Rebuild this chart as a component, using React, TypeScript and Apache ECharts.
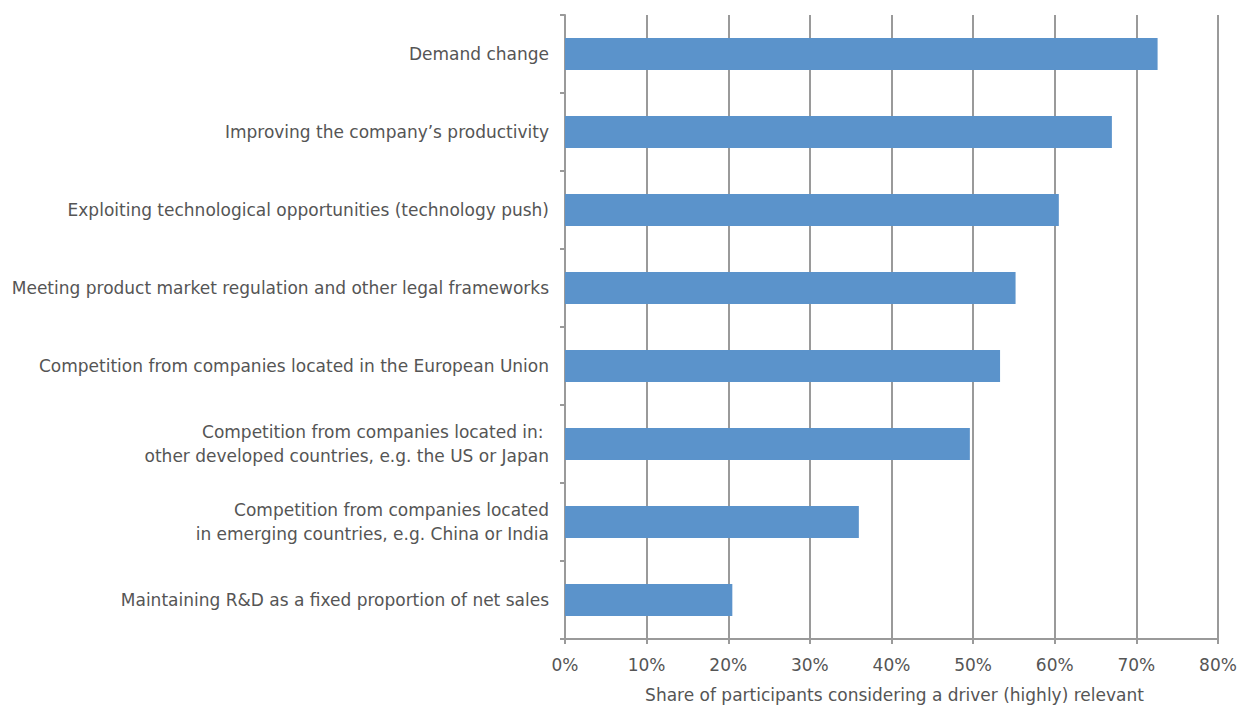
import React, { useEffect, useRef } from "react";
import * as echarts from "echarts";

const categories = [
  "Demand change",
  "Improving the company’s productivity",
  "Exploiting technological opportunities (technology push)",
  "Meeting product market regulation and other legal frameworks",
  "Competition from companies located in the European Union",
  "Competition from companies located in: \nother developed countries, e.g. the US or Japan",
  "Competition from companies located\nin emerging countries, e.g. China or India",
  "Maintaining R&D as a fixed proportion of net sales",
];
const values = [72.6, 67.0, 60.5, 55.2, 53.3, 49.6, 36.0, 20.5];
const xTicks = [0, 10, 20, 30, 40, 50, 60, 70, 80];
const xAxisTitle = "Share of participants considering a driver (highly) relevant";

export default function App() {
  const ref = useRef<HTMLDivElement>(null);
  useEffect(() => {
    if (!ref.current) return;
    const chart = echarts.init(ref.current, undefined, { renderer: "svg" });
    const font = "'DejaVu Sans', sans-serif";
    const grey = "#9a9a9a";
    chart.setOption({
      animation: false,
      textStyle: { fontFamily: font },
      grid: {
        left: 565,
        right: 23,
        top: 15,
        bottom: 67,
        containLabel: false,
        outerBoundsMode: "none",
      },
      xAxis: {
        type: "value",
        min: xTicks[0],
        max: xTicks[xTicks.length - 1],
        interval: 10,
        name: xAxisTitle,
        nameLocation: "middle",
        nameGap: 47,
        nameTextStyle: { color: "#555", fontSize: 17, fontFamily: font, padding: [0, 0, 0, 6] },
        axisLine: { show: true, lineStyle: { color: grey, width: 2 } },
        axisTick: { show: true, length: 5, lineStyle: { color: grey, width: 2 } },
        axisLabel: {
          color: "#555",
          fontSize: 17,
          margin: 17,
          fontFamily: font,
          formatter: (v: number) => `${v}%`,
        },
        splitLine: { show: true, lineStyle: { color: grey, width: 2 } },
      },
      yAxis: {
        type: "category",
        data: categories,
        inverse: true,
        axisLine: { show: true, lineStyle: { color: grey, width: 2 } },
        axisTick: { show: true, length: 5, inside: false, lineStyle: { color: grey, width: 2 } },
        axisLabel: {
          color: "#555",
          fontSize: 17,
          margin: 16,
          lineHeight: 24,
          align: "right",
          fontFamily: font,
          padding: [8, 0, 0, 0],
        },
        splitLine: { show: false },
      },
      series: [
        {
          type: "bar",
          data: values,
          barWidth: 32,
          itemStyle: { color: "#5B93CB" },
        },
      ],
    });
    return () => chart.dispose();
  }, []);
  return <div ref={ref} style={{ width: 1241, height: 706, position: "absolute", left: 0, top: 0 }} />;
}
